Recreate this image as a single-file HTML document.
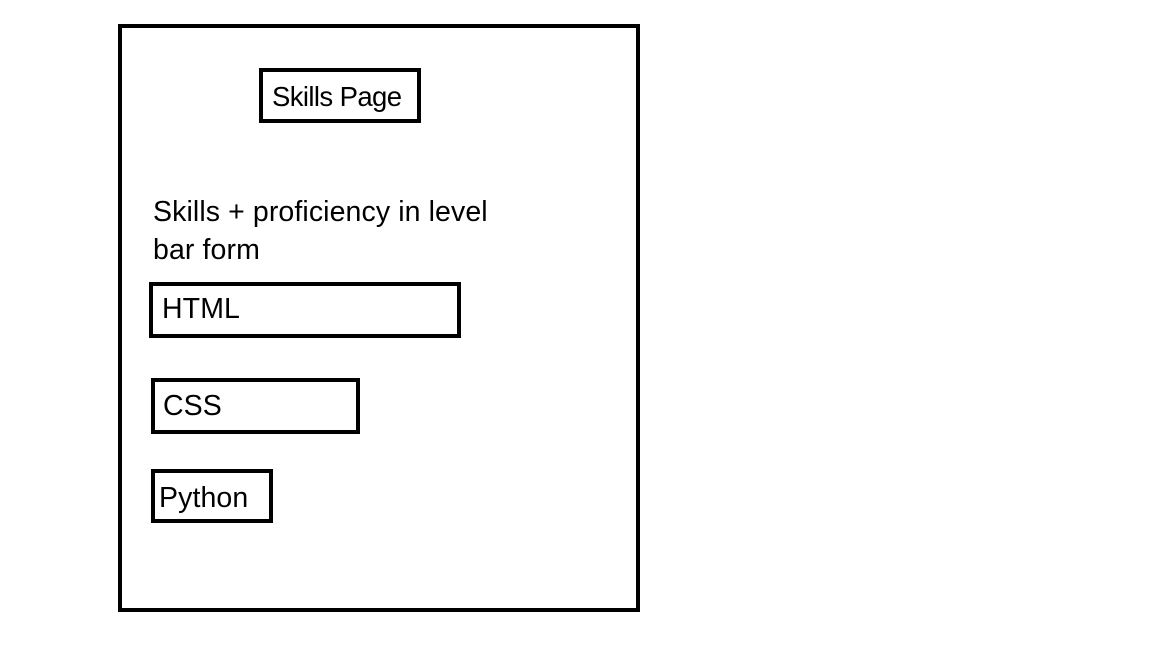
<!DOCTYPE html>
<html><head><meta charset="utf-8"><style>
body{margin:0;width:1152px;height:648px;background:#fff;position:relative;overflow:hidden;font-family:"Liberation Sans",sans-serif;color:#000}
.b{position:absolute;box-sizing:border-box;border:4.5px solid #000}
.t{position:absolute;font-size:28.5px;line-height:38px;white-space:nowrap;letter-spacing:0.1px}
</style></head><body>
<div class="b" style="left:118px;top:24px;width:522px;height:588px"></div>
<div class="b" style="left:259px;top:68px;width:162px;height:55px"></div>
<div class="t" style="left:272px;top:78px;letter-spacing:-0.6px;font-size:27.5px">Skills Page</div>
<div class="t" style="left:153px;top:193px">Skills + proficiency in level<br>bar form</div>
<div class="b" style="left:149px;top:282px;width:312px;height:56px"></div>
<div class="t" style="left:162px;top:290px">HTML</div>
<div class="b" style="left:151px;top:378px;width:209px;height:56px"></div>
<div class="t" style="left:163px;top:387px">CSS</div>
<div class="b" style="left:151px;top:469px;width:122px;height:54px"></div>
<div class="t" style="left:159px;top:479px">Python</div>
</body></html>
